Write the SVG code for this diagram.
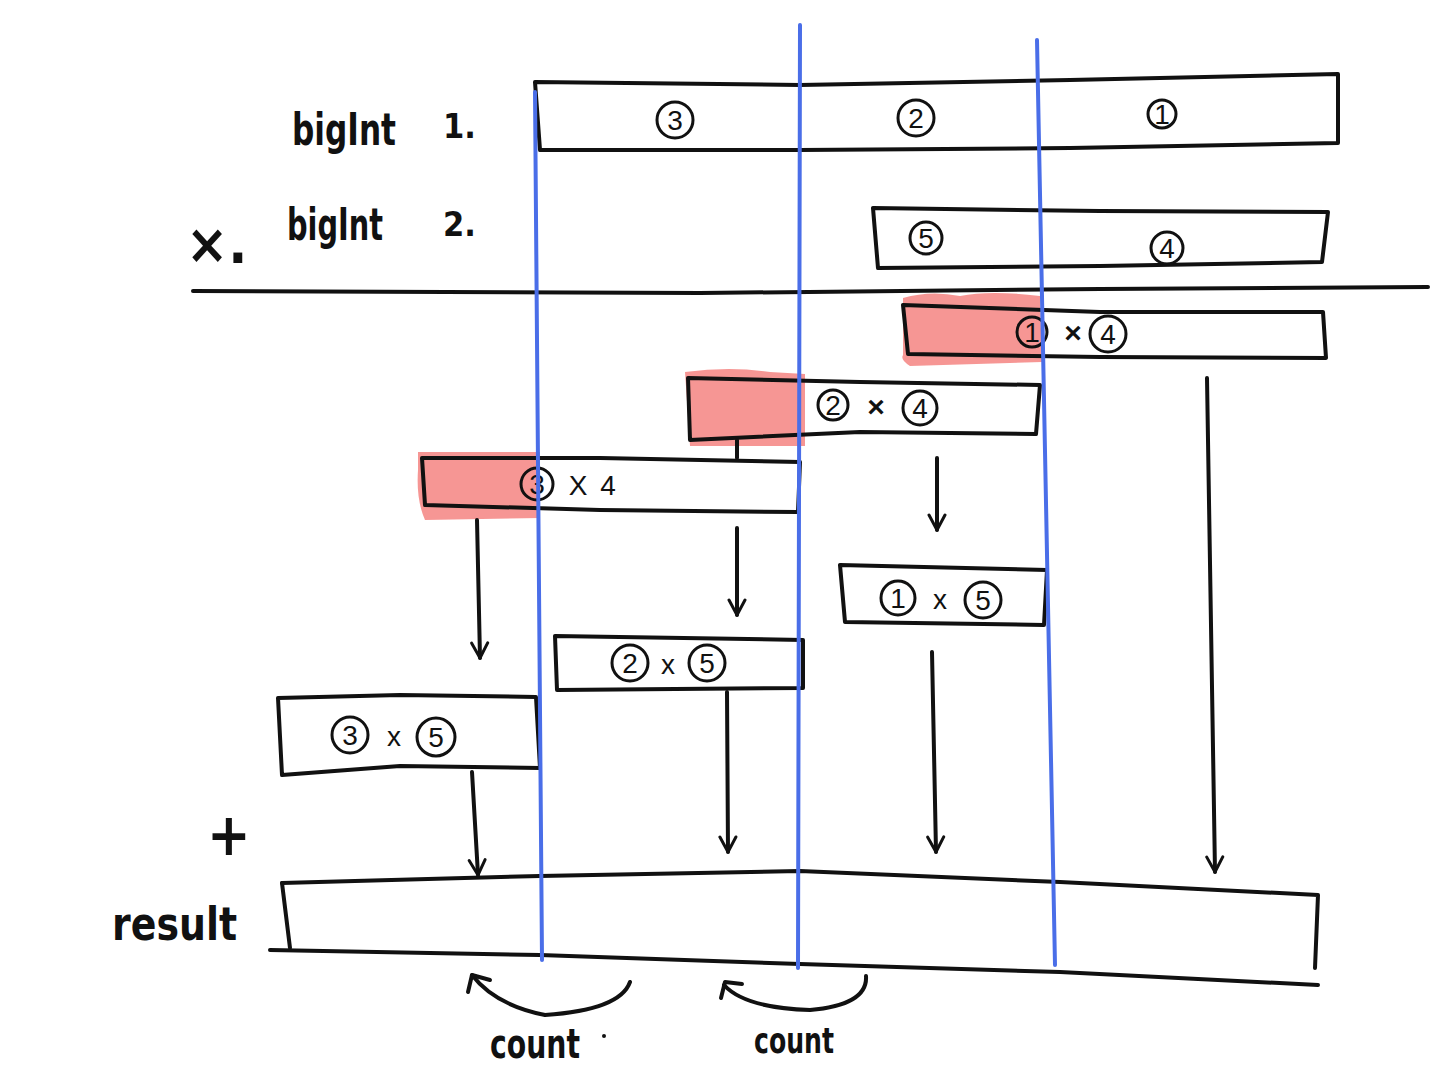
<svg xmlns="http://www.w3.org/2000/svg" width="1440" height="1077" viewBox="0 0 1440 1077">
<style>
.ink{fill:none;stroke:#111;stroke-width:4;stroke-linecap:round;stroke-linejoin:round}
.box{fill:#fff;stroke:#111;stroke-width:4;stroke-linejoin:round}
.hl{fill:#f5908e;opacity:0.95}
.blue{fill:none;stroke:#4a6ee8;stroke-width:4;stroke-linecap:round}
.lbl{font-family:"DejaVu Sans Condensed","Liberation Sans Narrow","Liberation Sans",sans-serif;fill:#111;font-weight:bold}
.dig{font-family:"Liberation Sans","DejaVu Sans",sans-serif;fill:#111;font-size:28px;text-anchor:middle}
.op{font-family:"Liberation Sans","DejaVu Sans",sans-serif;fill:#111;font-size:30px;font-weight:bold;text-anchor:middle}
.cir{fill:none;stroke:#111;stroke-width:3}
</style>
<defs>
<marker id="ah" viewBox="0 0 20 20" refX="18" refY="10" markerWidth="20" markerHeight="20" markerUnits="userSpaceOnUse" orient="auto">
<path d="M3 2 L18 10 L3 18" fill="none" stroke="#111" stroke-width="3" stroke-linecap="round" stroke-linejoin="round"/>
</marker>
</defs>
<rect width="1440" height="1077" fill="#fff"/>

<!-- labels on left -->
<text class="lbl" x="292" y="145" font-size="44" textLength="104" lengthAdjust="spacingAndGlyphs">bigInt</text>
<text class="lbl" x="443" y="138" font-size="34">1.</text>
<text class="lbl" x="287" y="240" font-size="44" textLength="96" lengthAdjust="spacingAndGlyphs">bigInt</text>
<text class="lbl" x="443" y="236" font-size="34">2.</text>
<text class="lbl" x="186" y="263" font-size="56">×.</text>
<text class="lbl" x="207" y="855" font-size="58">+</text>
<text class="lbl" x="112" y="940" font-size="46" textLength="125" lengthAdjust="spacingAndGlyphs">result</text>

<!-- operand boxes -->
<g id="bigint1">
<path class="box" d="M535 82 L800 85 L1070 80 L1338 74 L1338 143 L1070 148 L800 150 L540 150 Z"/>
<circle class="cir" cx="675" cy="120" r="18"/><text class="dig" x="675" y="130">3</text>
<circle class="cir" cx="916" cy="118" r="18"/><text class="dig" x="916" y="128">2</text>
<circle class="cir" cx="1162" cy="114" r="14"/><text class="dig" x="1162" y="124">1</text>
</g>
<g id="bigint2">
<path class="box" d="M873 208 L1100 211 L1328 212 L1322 262 L1100 266 L878 268 Z"/>
<circle class="cir" cx="926" cy="238" r="16"/><text class="dig" x="926" y="248">5</text>
<circle class="cir" cx="1167" cy="248" r="16"/><text class="dig" x="1167" y="258">4</text>
</g>
<path class="ink" d="M193 291 L700 293 L1100 289 L1428 287"/>

<!-- highlights -->
<path class="hl" d="M903 298 Q930 290 960 296 Q990 290 1040 296 L1042 362 L910 366 Q900 360 903 355 Z"/>
<path class="hl" d="M685 372 Q730 366 770 372 L805 374 L805 446 L690 446 Z"/>
<path class="hl" d="M418 452 L540 452 L540 518 L425 520 Q416 500 418 470 Z"/>

<!-- partial products -->
<g id="p14">
<path class="box" style="fill:none" d="M903 305 L1100 312 L1323 312 L1326 358 L1100 357 L908 354 Z"/>
<circle class="cir" cx="1032" cy="332" r="15"/><text class="dig" x="1032" y="342">1</text>
<text class="op" x="1073" y="343" font-size="26">×</text>
<circle class="cir" cx="1108" cy="334" r="18"/><text class="dig" x="1108" y="344">4</text>
</g>
<g id="p24">
<path class="box" style="fill:none" d="M688 378 L860 382 L1040 385 L1036 434 L860 432 L690 440 Z"/>
<circle class="cir" cx="833" cy="405" r="15"/><text class="dig" x="833" y="415">2</text>
<text class="op" x="876" y="417" font-size="26">×</text>
<circle class="cir" cx="920" cy="408" r="17"/><text class="dig" x="920" y="418">4</text>
</g>
<g id="p34">
<path class="box" style="fill:none" d="M422 458 L600 458 L800 462 L798 512 L600 510 L425 505 Z"/>
<circle class="cir" cx="537" cy="484" r="16"/><text class="dig" x="537" y="494">3</text>
<text class="dig" x="578" y="495" font-size="30">X</text>
<text class="dig" x="608" y="495" font-size="30">4</text>
</g>
<g id="p15">
<path class="box" d="M840 565 L1047 570 L1044 625 L845 622 Z"/>
<circle class="cir" cx="898" cy="598" r="17"/><text class="dig" x="898" y="608">1</text>
<text class="dig" x="940" y="609" font-size="30">x</text>
<circle class="cir" cx="983" cy="600" r="18"/><text class="dig" x="983" y="610">5</text>
</g>
<g id="p25">
<path class="box" d="M555 636 L803 640 L803 688 L557 690 Z"/>
<circle class="cir" cx="630" cy="663" r="18"/><text class="dig" x="630" y="673">2</text>
<text class="dig" x="668" y="674" font-size="30">x</text>
<circle class="cir" cx="707" cy="663" r="18"/><text class="dig" x="707" y="673">5</text>
</g>
<g id="p35">
<path class="box" d="M278 698 L400 695 L536 697 L540 768 L400 766 L282 775 Z"/>
<circle class="cir" cx="350" cy="735" r="18"/><text class="dig" x="350" y="745">3</text>
<text class="dig" x="394" y="746" font-size="30">x</text>
<circle class="cir" cx="436" cy="737" r="19"/><text class="dig" x="436" y="747">5</text>
</g>
<g id="result">
<path class="ink" d="M282 883 L540 876 L800 871 L1060 882 L1318 895 L1315 968"/>
<path class="ink" d="M282 883 L290 948"/>
<path class="ink" d="M270 950 L540 955 L800 964 L1060 972 L1318 985"/>
</g>

<!-- blue column lines -->
<path class="blue" d="M535 92 L542 960"/>
<path class="blue" d="M800 25 L798 968"/>
<path class="blue" d="M1037 40 L1055 965"/>

<!-- connectors -->
<g id="connectors">
<path class="ink" d="M737 440 L737 458"/>
<path class="ink" marker-end="url(#ah)" d="M477 520 L480 658"/>
<path class="ink" marker-end="url(#ah)" d="M737 528 L737 615"/>
<path class="ink" marker-end="url(#ah)" d="M937 458 L937 530"/>
<path class="ink" marker-end="url(#ah)" d="M1207 378 L1215 872"/>
<path class="ink" marker-end="url(#ah)" d="M472 772 L478 875"/>
<path class="ink" marker-end="url(#ah)" d="M727 692 L728 852"/>
<path class="ink" marker-end="url(#ah)" d="M932 652 L936 852"/>
<path class="ink" d="M630 982 Q620 1010 545 1015 Q495 1005 472 975"/>
<path class="ink" d="M468 992 L472 975 L490 980"/>
<path class="ink" d="M866 976 Q868 1005 810 1010 Q745 1008 724 985"/>
<path class="ink" d="M721 998 L725 982 L742 984"/>
</g>
<text class="lbl" x="490" y="1058" font-size="40" textLength="90" lengthAdjust="spacingAndGlyphs">count</text>
<circle cx="604" cy="1036" r="2" fill="#111"/>
<text class="lbl" x="754" y="1053" font-size="36" textLength="80" lengthAdjust="spacingAndGlyphs">count</text>
</svg>
